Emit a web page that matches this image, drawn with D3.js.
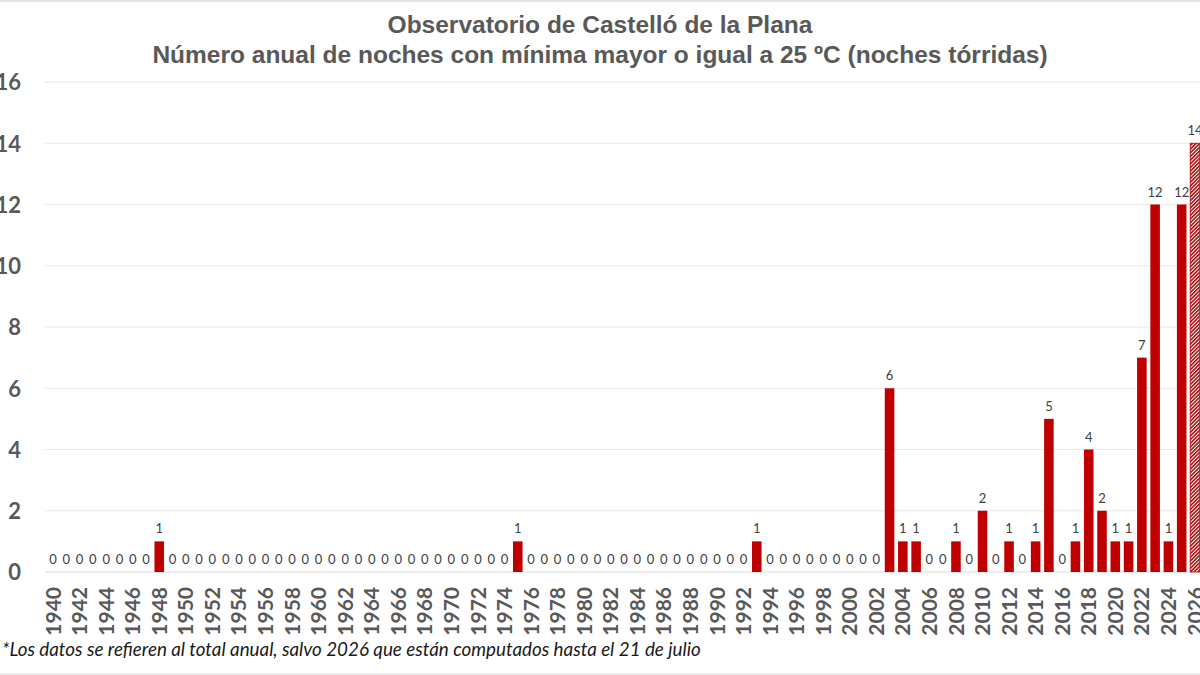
<!DOCTYPE html>
<html><head><meta charset="utf-8">
<script src="https://cdn.jsdelivr.net/npm/d3@7/dist/d3.min.js"></script>
<style>body{margin:0;background:#fff}svg{display:block}</style>
</head><body>
<svg id="c" width="1200" height="675"></svg>
<script>
const years = d3.range(1940, 2027);
const nonZero = {1948:1,1975:1,1993:1,2003:6,2004:1,2005:1,2008:1,2010:2,2012:1,2014:1,2015:5,2017:1,2018:4,2019:2,2020:1,2021:1,2022:7,2023:12,2024:1,2025:12,2026:14};
const values = years.map(y => nonZero[y] || 0);
const partialYears = [2026];
const yTicks = [0,2,4,6,8,10,12,14,16];
const titleLines = ["Observatorio de Castelló de la Plana","Número anual de noches con mínima mayor o igual a 25 ºC (noches tórridas)"];
const footnote = "*Los datos se refieren al total anual, salvo 2026 que están computados hasta el 21 de julio";

const svg = d3.select("#c");
const W = 1200, H = 675;
const x = d3.scaleBand().domain(years).range([46.4, 1201.6]).paddingInner(0.28).paddingOuter(0.14);
const y = d3.scaleLinear().domain([0,16]).range([572, 82]);

const defs = svg.append("defs");
const pat = defs.append("pattern").attr("id","hatch").attr("patternUnits","userSpaceOnUse")
  .attr("width",2.6).attr("height",2.6).attr("patternTransform","rotate(45)");
pat.append("rect").attr("width",2.6).attr("height",2.6).attr("fill","#fff");
pat.append("rect").attr("width",1.5).attr("height",2.6).attr("fill","#A00000");

// borders
svg.append("line").attr("x1",0).attr("x2",W).attr("y1",1).attr("y2",1).attr("stroke","#e6e6e6").attr("stroke-width",2);
svg.append("line").attr("x1",0).attr("x2",W).attr("y1",674).attr("y2",674).attr("stroke","#ececec").attr("stroke-width",2);

// gridlines
svg.append("g").selectAll("line").data(yTicks).join("line")
  .attr("x1",45).attr("x2",W).attr("y1",d=>y(d)).attr("y2",d=>y(d))
  .attr("stroke",d=>d===0?"#d9d9d9":"#e8e8e8").attr("stroke-width",1.2);

// y axis labels (cut at the left edge, as in the reference)
const yAxis = d3.axisLeft(y).tickValues(yTicks).tickSize(0).tickPadding(0);
const ya = svg.append("g").attr("transform","translate(21,0)").call(yAxis);
ya.select(".domain").remove();
ya.selectAll("text").attr("font-family","Lato, 'Open Sans', sans-serif").attr("font-weight","bold")
  .attr("font-size",22).attr("fill","#595959").attr("dy","0.36em");

// bars
svg.append("g").selectAll("rect").data(years.filter((yr,i)=>values[i]>0)).join("rect")
  .attr("x",d=>x(d)).attr("width",x.bandwidth())
  .attr("y",d=>y(values[years.indexOf(d)])).attr("height",d=>y(0)-y(values[years.indexOf(d)]))
  .attr("fill",d=>partialYears.includes(d)?"url(#hatch)":"#C00000")
  .attr("stroke",d=>partialYears.includes(d)?"#C00000":"none").attr("stroke-width",0.8);

// data labels
svg.append("g").selectAll("text").data(years).join("text")
  .attr("x",d=>x(d)+x.bandwidth()/2)
  .attr("y",(d,i)=>y(values[i])-8)
  .attr("text-anchor","middle")
  .attr("font-family","Lato, 'Open Sans', sans-serif").attr("font-size",13).attr("fill","#404040")
  .text((d,i)=>values[i]);

// x axis labels
const xAxis = d3.axisBottom(x).tickValues(years.filter(d=>d%2===0)).tickSize(0).tickPadding(0);
const xa = svg.append("g").attr("transform","translate(0,587)").call(xAxis);
xa.select(".domain").remove();
xa.selectAll("text").attr("font-family","Lato, 'Open Sans', sans-serif").attr("font-weight","bold")
  .attr("font-size",21).attr("fill","#595959")
  .attr("transform","rotate(-90)").attr("text-anchor","end").attr("x",0).attr("y",0).attr("dy","0.36em");

// title
svg.append("g").selectAll("text").data(titleLines).join("text")
  .attr("x",600).attr("y",(d,i)=>33+i*30).attr("text-anchor","middle")
  .attr("font-family","'Liberation Sans', Arial, sans-serif").attr("font-weight","bold")
  .attr("font-size",24.5).attr("fill","#595959").text(d=>d);

// footnote
svg.append("text").attr("x",2).attr("y",656)
  .attr("font-family","Lato, 'Open Sans', sans-serif").attr("font-style","italic")
  .attr("font-size",18.8).attr("fill","#1a1a1a").text(footnote);
</script>
</body></html>
